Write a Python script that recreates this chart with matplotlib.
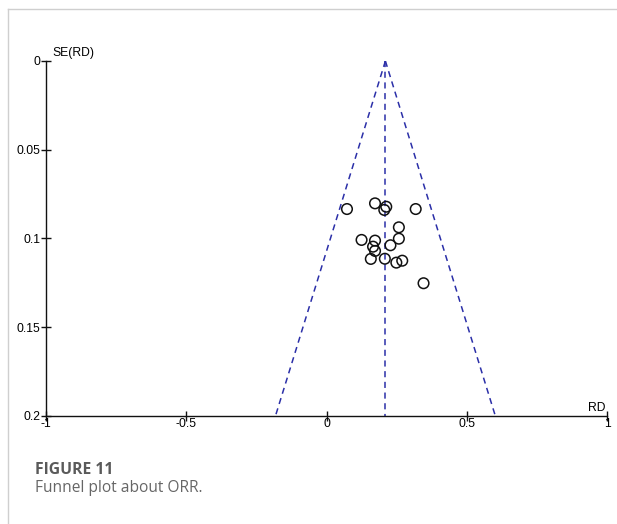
import matplotlib
matplotlib.use("Agg")
import matplotlib.pyplot as plt
from matplotlib.lines import Line2D
import numpy as np

# Study-level risk differences and their standard errors
rd = [0.073, 0.173, 0.213, 0.206, 0.318, 0.258, 0.125, 0.173, 0.258,
      0.228, 0.166, 0.173, 0.158, 0.208, 0.249, 0.270, 0.346]
se = [0.0834, 0.0802, 0.0821, 0.0839, 0.0834, 0.0937, 0.1008, 0.1012, 0.1001,
      0.1038, 0.1046, 0.1070, 0.1115, 0.1114, 0.1136, 0.1125, 0.1252]

pooled_rd = 0.21
se_max = 0.2
x_ticks = [-1, -0.5, 0, 0.5, 1]
x_tick_labels = ["-1", "-0.5", "0", "0.5", "1"]
y_ticks = [0, 0.05, 0.1, 0.15, 0.2]
y_tick_labels = ["0", "0.05", "0.1", "0.15", "0.2"]

W, H = 617, 524
fig = plt.figure(figsize=(W / 100, H / 100), dpi=100)
ax = fig.add_axes([46 / W, 1 - 416 / H, (607 - 46) / W, (416 - 61) / H])

tick_font = dict(family=["Liberation Sans", "DejaVu Sans"], size=8.7)

# Funnel: pooled estimate line and 95% pseudo-confidence limits
se_line = np.array([0.0, se_max])
dash_col = "#2b2fa8"
ax.plot([pooled_rd, pooled_rd], se_line, color=dash_col, lw=1.1,
        dashes=(4, 3))
ax.plot(pooled_rd - 1.96 * se_line, se_line, color=dash_col, lw=1.1,
        dashes=(4, 3))
ax.plot(pooled_rd + 1.96 * se_line, se_line, color=dash_col, lw=1.1,
        dashes=(4, 3))

ax.scatter(rd, se, s=58, facecolors="none", edgecolors="#111111",
           linewidths=1.1, zorder=3)

ax.set_xlim(-1, 1)
ax.set_ylim(se_max, 0)
for s in ["top", "right"]:
    ax.spines[s].set_visible(False)
for s in ["left", "bottom"]:
    ax.spines[s].set_color("#111111")
    ax.spines[s].set_linewidth(1.0)

ax.set_xticks(x_ticks)
ax.set_xticklabels(x_tick_labels, **tick_font)
ax.set_yticks(y_ticks)
ax.set_yticklabels(y_tick_labels, **tick_font)
ax.tick_params(axis="both", direction="inout", length=7, width=1.0,
               color="#111111")
ax.tick_params(axis="x", pad=-2)
ax.tick_params(axis="y", pad=0.5)

ax.text(0.012, 1.005, "SE(RD)", transform=ax.transAxes, ha="left",
        va="bottom", **tick_font)
ax.text(0.997, 0.006, "RD", transform=ax.transAxes, ha="right",
        va="bottom", **tick_font)

# Page frame lines
fig.add_artist(Line2D([8 / W, 1], [1 - 9 / H, 1 - 9 / H],
                      transform=fig.transFigure, color="#cfcfcf", lw=1.0))
fig.add_artist(Line2D([8 / W, 8 / W], [0, 1 - 9 / H],
                      transform=fig.transFigure, color="#cfcfcf", lw=1.0))

fig.text(35 / W, 1 - 470 / H, "FIGURE 11", ha="left", va="center",
         family=["Open Sans", "DejaVu Sans"], weight="bold", size=11.3,
         color="#5a5a5a")
fig.text(35 / W, 1 - 488 / H, "Funnel plot about ORR.", ha="left",
         va="center", family=["Open Sans", "DejaVu Sans"], size=11.2,
         color="#666666")

fig.savefig("out.png", dpi=100)
